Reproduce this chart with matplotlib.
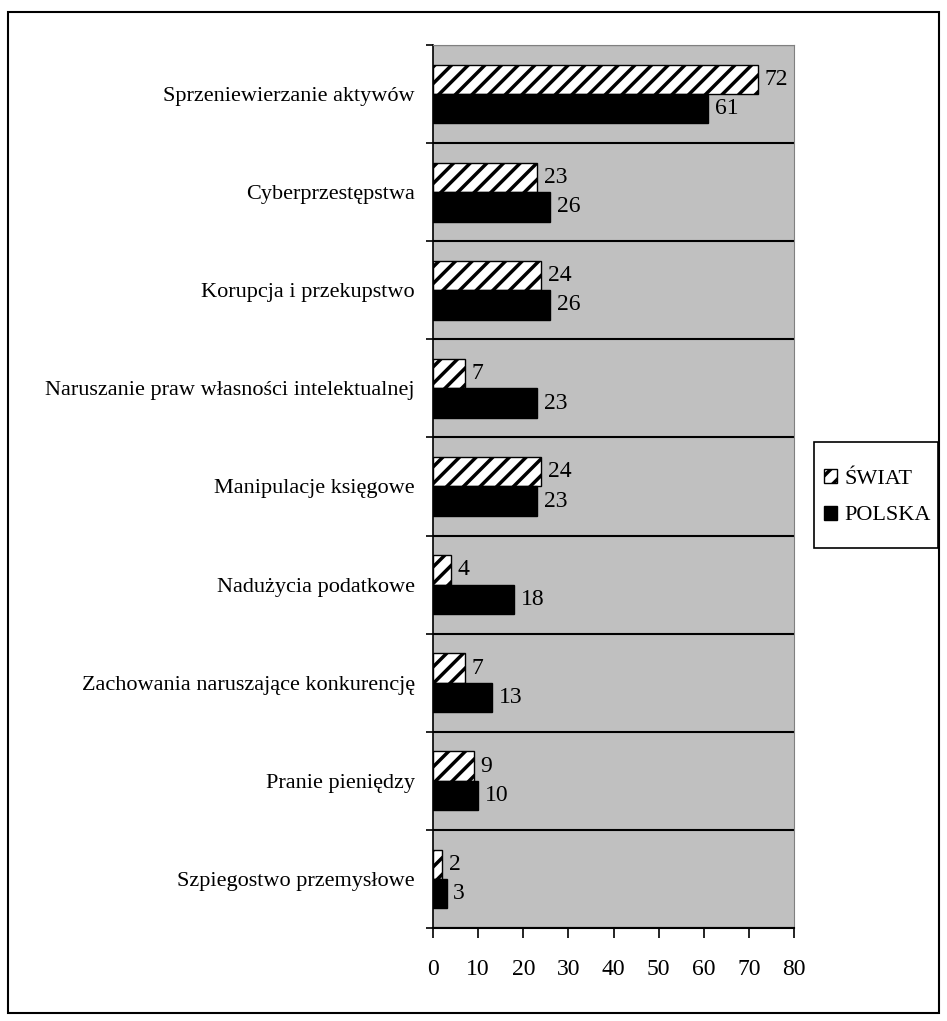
import numpy as np
import matplotlib
matplotlib.use("Agg")
import matplotlib.pyplot as plt
from matplotlib.patches import Rectangle, Patch

plt.rcParams['font.family'] = ['Liberation Serif', 'DejaVu Serif']
plt.rcParams['hatch.linewidth'] = 2.5

# data (percent)
categories = [
    "Sprzeniewierzanie aktywów",
    "Cyberprzestępstwa",
    "Korupcja i przekupstwo",
    "Naruszanie praw własności intelektualnej",
    "Manipulacje księgowe",
    "Nadużycia podatkowe",
    "Zachowania naruszające konkurencję",
    "Pranie pieniędzy",
    "Szpiegostwo przemysłowe",
]
swiat = [72, 23, 24, 7, 24, 4, 7, 9, 2]
polska = [61, 26, 26, 23, 23, 18, 13, 10, 3]
x_ticks = [0, 10, 20, 30, 40, 50, 60, 70, 80]

fig = plt.figure(figsize=(9.47, 10.21), dpi=100)
ax = fig.add_axes([433 / 947, 1 - 928 / 1021, 361 / 947, 883 / 1021])
ax.set_facecolor('#C0C0C0')

n = len(categories)
y = np.arange(n)
h = 0.3
ax.barh(y - h / 2, swiat, height=h, color='white', edgecolor='black',
        hatch='//', linewidth=1, zorder=3, label='ŚWIAT')
ax.barh(y + h / 2, polska, height=h, color='black', edgecolor='black',
        linewidth=1, zorder=3, label='POLSKA')

for yi, s, p in zip(y, swiat, polska):
    ax.text(s + 1.5, yi - h / 2, str(s), va='center', ha='left', fontsize=17, zorder=4)
    ax.text(p + 1.5, yi + h / 2, str(p), va='center', ha='left', fontsize=17, zorder=4)

ax.set_xlim(0, 80)
ax.set_ylim(n - 0.5, -0.5)
ax.set_xticks(x_ticks)
ax.set_xticklabels([str(t) for t in x_ticks], fontsize=17)
ax.tick_params(axis='x', length=7, width=1.2, pad=15, direction='out')

# major ticks on band boundaries, labels on minor ticks at band centres
ax.set_yticks(np.arange(n + 1) - 0.5)
ax.set_yticklabels([])
ax.set_yticks(y, minor=True)
ax.set_yticklabels(categories, minor=True, fontsize=16)
ax.tick_params(axis='y', which='major', length=5, width=1.2, direction='out')
ax.tick_params(axis='y', which='minor', length=0, pad=13)
ax.grid(axis='y', which='major', color='black', linewidth=1.5, zorder=1)
ax.set_axisbelow(True)

ax.spines['left'].set_color('black')
ax.spines['left'].set_linewidth(1.2)
ax.spines['bottom'].set_color('black')
ax.spines['bottom'].set_linewidth(1.5)
ax.spines['top'].set_color('#808080')
ax.spines['right'].set_color('#808080')

# legend entries without frame; the frame is drawn separately
handles = [Patch(facecolor='white', edgecolor='black', hatch='//', label='ŚWIAT'),
           Patch(facecolor='black', edgecolor='black', label='POLSKA')]
leg = fig.legend(handles=handles, loc='upper left',
                 bbox_to_anchor=(824 / 947, 1 - 469 / 1021), fontsize=16,
                 frameon=False, handlelength=0.6, handleheight=0.6,
                 handletextpad=0.3, labelspacing=0.75, borderpad=0,
                 borderaxespad=0)
fig.patches.append(Rectangle((814 / 947, 1 - 548 / 1021), 124 / 947, 106 / 1021,
                             transform=fig.transFigure, fill=False,
                             edgecolor='black', linewidth=1.2))

# outer border of the chart
fig.patches.append(Rectangle((8 / 947, 1 - 1013 / 1021), 931 / 947, 1001 / 1021,
                             transform=fig.transFigure, fill=False,
                             edgecolor='black', linewidth=1.5))

fig.savefig('out.png', dpi=100)
